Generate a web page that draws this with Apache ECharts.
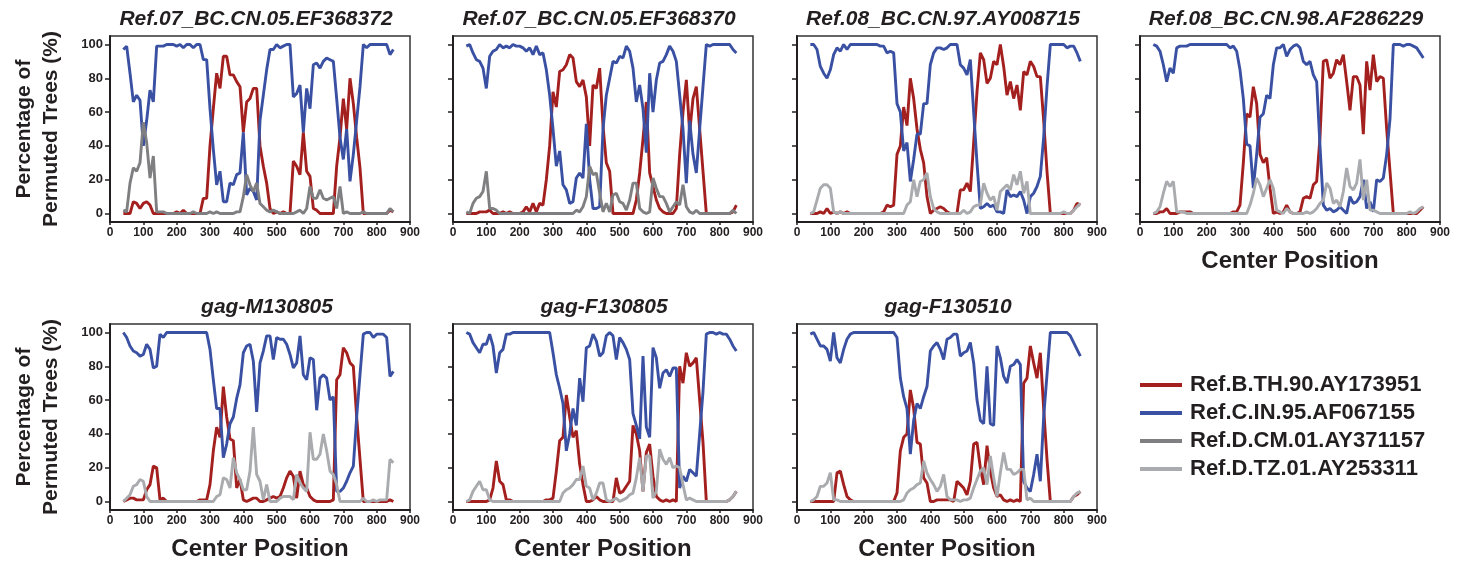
<!DOCTYPE html>
<html>
<head>
<meta charset="utf-8">
<title>Bootscan</title>
<script src="https://cdn.jsdelivr.net/npm/echarts@6.0.0/dist/echarts.min.js"></script>
<style>
  html, body { margin: 0; padding: 0; background: #fff; }
  #chart { width: 1463px; height: 563px; }
</style>
</head>
<body>
<div id="chart"></div>
<script>
// window centre positions (x axis)
var positions = [40,50,60,70,80,90,100,110,120,130,140,
  150,160,170,180,190,200,210,220,230,240,250,
  260,270,280,290,300,310,320,330,340,350,360,
  370,380,390,400,410,420,430,440,450,460,470,
  480,490,500,510,520,530,540,550,560,570,580,
  590,600,610,620,630,640,650,660,670,680,690,
  700,710,720,730,740,750,760,770,780,790,800,
  810,820,830,840,850];

var refNames = ['Ref.B.TH.90.AY173951', 'Ref.C.IN.95.AF067155', 'Ref.D.CM.01.AY371157', 'Ref.D.TZ.01.AY253311'];
var panelTitles = ['Ref.07_BC.CN.05.EF368372', 'Ref.07_BC.CN.05.EF368370', 'Ref.08_BC.CN.97.AY008715',
  'Ref.08_BC.CN.98.AF286229', 'gag-M130805', 'gag-F130805', 'gag-F130510'];
var yTicks = [0, 20, 40, 60, 80, 100];

// panel 1 : Ref.07_BC.CN.05.EF368372
var p1Red = [0,0,0,7,6,3,6,7,5,0,0, 0,0,0,0,0,1,0,2,0,0,0, 0,0,9,9,40,62,83,74,93,93,82,
  82,78,75,48,66,68,74,74,40,28,18, 3,0,1,0,1,0,0,31,28,23,48, 25,22,3,2,0,0,0,0,0,28,45,
  68,50,80,65,45,27,0,0,0,0,0, 0,0,0,2,1];
var p1Blue = [97,99,83,66,70,67,40,55,73,66,99, 99,99,100,100,100,99,100,98,100,100,98,
  100,100,91,91,62,38,17,25,7,7,18, 17,23,24,48,11,15,13,8,55,70,85, 97,97,100,98,99,100,100,69,71,76,48,
  74,62,88,89,86,90,92,91,90,68,45, 32,50,19,35,55,75,100,98,100,100,100, 100,100,100,94,97];
var p1Grey = [2,1,18,27,25,30,54,42,21,34,1, 1,1,0,0,0,0,0,0,0,0,1, 0,0,0,0,1,0,1,0,0,0,0,
  0,1,1,10,23,17,13,18,6,4,2, 1,2,1,0,0,0,0,0,1,2,0, 3,16,9,9,14,9,8,9,10,3,16,
  0,1,0,0,0,0,1,0,0,0,0, 0,0,0,3,1];

// panel 2 : Ref.07_BC.CN.05.EF368370
var p2Red = [0,0,0,0,1,1,1,2,0,0,0, 1,0,1,0,0,0,1,4,1,6,1, 6,5,20,40,72,63,84,85,88,94,92,
  78,75,79,69,40,76,74,86,52,30,25, 0,0,0,0,0,0,0,8,24,44,66, 24,16,8,3,1,0,0,0,3,35,60,
  79,48,68,75,50,25,0,0,0,0,0, 0,0,0,1,5];
var p2Blue = [99,100,95,91,90,86,74,93,96,97,100, 98,99,98,100,99,99,98,96,98,94,99,
  94,95,85,70,50,28,37,17,14,6,7, 21,24,21,53,20,3,3,4,50,70,80, 90,89,93,92,99,96,86,66,76,62,36,
  83,60,79,89,90,94,99,96,90,70,50, 18,55,35,24,50,75,100,99,100,100,100, 100,100,100,97,95];
var p2Grey = [1,0,6,9,10,13,25,3,3,2,0, 0,0,0,0,0,0,0,0,0,0,0, 0,0,0,0,0,0,0,0,0,0,0,
  2,1,4,10,28,23,24,12,1,6,1, 11,12,7,6,2,8,18,18,3,1,0, 1,21,15,10,10,6,1,4,7,5,17,
  4,1,0,2,0,0,0,0,0,0,0, 0,0,0,2,0];

// panel 3 : Ref.08_BC.CN.97.AY008715
var p3Red = [0,0,0,1,0,3,0,1,0,1,0, 1,0,0,0,0,0,0,0,0,0,0, 1,5,4,5,35,40,63,52,80,68,50,
  38,30,10,0,2,3,4,3,1,0,0, 0,14,14,18,13,42,72,95,91,77,80, 90,88,100,87,70,78,68,76,61,84,82,
  90,87,81,81,55,25,0,0,0,0,0, 0,0,2,6,5];
var p3Blue = [100,100,97,87,83,80,85,94,98,96,100, 97,100,100,100,100,100,100,100,100,100,99,
  99,95,96,95,65,60,37,42,19,32,47, 47,65,65,88,95,98,98,97,98,100,100, 100,88,86,82,91,60,30,3,4,6,4,
  5,1,1,0,14,10,11,10,13,8,0, 10,12,16,22,45,75,100,100,100,100,100, 98,99,99,95,90];
var p3Light = [0,1,8,15,17,17,15,1,0,1,0, 0,0,0,0,0,0,0,0,0,0,0, 0,0,0,0,0,0,0,5,7,20,10,
  19,20,24,10,3,1,0,0,0,0,0, 0,0,2,0,1,4,5,5,18,12,8, 10,2,13,15,17,14,23,17,25,12,19,
  0,0,0,0,0,0,0,0,0,0,1, 0,0,2,4,6];

// panel 4 : Ref.08_BC.CN.98.AF286229
var p4Red = [0,0,1,1,3,0,0,0,1,1,1, 1,0,0,0,0,0,0,0,0,0,0, 0,0,1,1,5,30,59,57,75,65,35,
  30,33,15,0,1,0,1,5,1,0,0, 1,9,10,9,17,19,45,90,91,80,83, 91,88,94,78,61,81,81,76,47,90,73,
  94,78,81,80,50,25,0,0,0,0,0, 0,0,0,2,4];
var p4Blue = [100,99,96,88,78,86,83,98,99,99,99, 100,100,100,100,100,100,100,100,100,100,100,
  100,98,99,96,85,68,41,40,15,35,57, 59,70,68,88,98,98,100,93,97,99,100, 98,90,88,90,82,78,40,5,2,3,1,
  2,4,2,0,10,6,7,10,20,3,7, 1,20,19,21,35,56,100,100,100,99,100, 100,99,98,95,92];
var p4Light = [0,1,4,12,19,16,19,1,1,1,0, 0,0,0,0,0,0,0,0,0,0,0, 0,0,0,0,0,0,0,5,12,21,17,
  10,15,20,15,2,1,0,3,1,0,0, 0,0,1,0,1,3,6,8,18,15,6, 8,4,13,27,16,14,18,32,8,20,2,
  2,1,0,0,0,0,0,0,0,0,0, 1,0,1,3,4];

// panel 5 : gag-M130805
var p5Red = [0,1,2,2,1,1,1,7,10,21,20, 1,2,0,0,0,0,0,0,0,0,0, 0,1,1,1,10,30,44,38,68,50,37,
  36,8,13,1,0,1,2,2,0,0,1, 2,3,2,3,8,14,18,15,2,18,10, 8,3,1,0,0,0,0,0,1,72,75,
  91,88,82,80,50,25,0,0,0,0,0, 0,0,0,1,0];
var p5Blue = [100,97,92,89,88,86,87,93,90,79,80, 99,97,100,100,100,100,100,100,100,100,100,
  100,100,100,100,90,72,55,55,26,34,46, 50,61,69,88,92,93,83,53,82,89,98, 98,84,97,96,96,93,87,79,82,98,75,
  72,85,84,54,73,75,73,60,62,6,6, 8,12,17,21,50,75,99,100,100,97,99, 99,99,97,74,77];
var p5Light = [0,2,4,9,10,13,12,3,0,0,0, 0,0,0,0,0,0,0,0,0,0,0, 0,0,0,0,0,0,3,4,14,13,8,
  26,17,13,7,7,18,44,16,12,1,10, 0,0,0,2,3,3,3,1,16,11,8, 6,41,25,25,28,40,30,18,16,10,0,
  0,0,0,0,0,0,2,0,0,1,0, 1,1,1,25,23];

// panel 6 : gag-F130805
var p6Red = [0,0,0,0,0,0,0,1,8,24,12, 10,1,1,0,0,0,0,0,0,0,0, 0,0,1,1,2,18,36,38,63,50,38,
  42,22,10,0,0,1,3,1,0,0,0, 0,14,5,6,9,12,45,40,30,6,29, 34,15,3,1,0,1,0,1,0,80,70,
  88,80,82,85,60,35,0,0,0,0,0, 0,0,1,3,6];
var p6Blue = [100,99,94,91,88,93,93,99,92,76,88, 90,99,99,100,100,100,100,100,100,100,100,
  100,100,100,100,88,75,67,58,30,40,55, 45,73,59,91,92,99,95,86,88,98,100, 98,84,97,94,90,84,52,45,37,86,44,
  38,91,85,67,76,78,74,79,79,8,15, 12,19,17,15,40,65,99,100,100,99,100, 99,99,96,92,89];
var p6Light = [0,1,6,9,12,7,7,1,0,0,0, 0,0,0,0,0,0,0,0,0,0,0, 0,0,0,0,0,0,0,5,7,8,10,
  13,13,21,9,8,1,5,11,11,1,0, 1,2,0,1,2,4,5,14,26,6,27, 27,2,6,31,25,22,26,20,21,20,10,
  1,2,1,0,0,0,0,0,0,0,0, 0,0,1,3,6];

// panel 7 : gag-F130510
var p7Red = [0,0,0,0,0,0,0,0,17,18,10, 3,1,0,0,0,0,0,0,0,0,0, 0,0,0,0,5,30,38,40,66,55,35,
  34,14,11,0,0,1,1,1,1,1,0, 12,10,8,4,12,34,35,20,10,33,18, 8,3,4,1,0,1,0,1,0,70,73,
  92,82,73,88,55,25,0,0,0,0,0, 0,0,3,4,6];
var p7Blue = [99,100,96,92,92,90,83,100,85,82,90, 96,99,100,100,100,100,100,100,100,100,100,
  100,100,100,100,97,73,62,55,28,48,58, 55,62,68,89,92,94,90,84,96,97,99, 99,86,88,89,94,82,60,48,46,80,46,
  45,92,85,74,70,80,81,84,81,12,8, 6,16,28,12,50,75,100,100,100,100,100, 100,98,94,90,86];
var p7Light = [0,1,3,9,9,11,17,1,1,0,0, 0,0,0,0,0,0,0,0,0,0,0, 0,0,0,0,0,0,1,5,7,8,10,
  11,24,17,13,10,6,9,16,3,1,1, 1,0,1,1,2,8,13,18,20,10,27, 14,3,17,29,19,19,16,17,19,19,1,
  2,0,0,0,0,0,0,0,0,0,0, 0,0,3,5,6];

var colors = ['#a3201f', '#3a51a3', '#7f7f81', '#a9abae'];
var font = 'Liberation Sans, Arial, sans-serif';
var ink = '#231f20';

// layout of the 7 small panels
var panels = [
  { left: 110, top: 36, titleShift: -9, red: p1Red, blue: p1Blue, other: p1Grey, otherIdx: 2, yName: true, xName: false },
  { left: 453, top: 36, titleShift: -9, red: p2Red, blue: p2Blue, other: p2Grey, otherIdx: 2, yName: false, xName: false },
  { left: 797, top: 36, titleShift: -9, red: p3Red, blue: p3Blue, other: p3Light, otherIdx: 3, yName: false, xName: false },
  { left: 1140, top: 36, titleShift: -9, red: p4Red, blue: p4Blue, other: p4Light, otherIdx: 3, yName: false, xName: true },
  { left: 110, top: 324, titleShift: 2, red: p5Red, blue: p5Blue, other: p5Light, otherIdx: 3, yName: true, xName: true },
  { left: 453, top: 324, titleShift: -4, red: p6Red, blue: p6Blue, other: p6Light, otherIdx: 3, yName: false, xName: true },
  { left: 797, top: 324, titleShift: -4, red: p7Red, blue: p7Blue, other: p7Light, otherIdx: 3, yName: false, xName: true }
];

function pairs(arr) {
  return positions.map(function (x, i) { return [x, arr[i]]; });
}

var grids = [], xAxes = [], yAxes = [], titles = [], series = [];

panels.forEach(function (p, k) {
  grids.push({ left: p.left, top: p.top, width: 300, height: 186, show: true,
    borderColor: '#333', borderWidth: 1.5, backgroundColor: 'transparent' });

  titles.push({ text: panelTitles[k], left: p.left + 150 + p.titleShift, top: p.top - 32, textAlign: 'center',
    textStyle: { fontFamily: font, fontSize: 21, fontWeight: 'bold', fontStyle: 'italic', color: ink } });

  xAxes.push({
    type: 'value', gridIndex: k, min: 0, max: 900, interval: 100,
    axisLine: { onZero: false, lineStyle: { color: ink, width: 2 } },
    axisTick: { show: true, length: 3, lineStyle: { color: ink, width: 1.5 } },
    axisLabel: { margin: 5, fontFamily: font, fontSize: 12, fontWeight: 'bold', color: ink },
    splitLine: { show: false },
    name: p.xName ? 'Center Position' : '',
    nameLocation: 'middle', nameGap: 27,
    nameTextStyle: { fontFamily: font, fontSize: 24, fontWeight: 'bold', color: ink }
  });

  yAxes.push({
    type: 'value', gridIndex: k, min: -5, max: 105,
    axisLine: { onZero: false, lineStyle: { color: ink, width: 2 } },
    axisTick: { show: true, length: 5, customValues: yTicks, lineStyle: { color: ink, width: 1.5 } },
    axisLabel: { show: p.yName, customValues: yTicks, margin: 7, fontFamily: font, fontSize: 13,
      fontWeight: 'bold', color: ink },
    splitLine: { show: false },
    name: p.yName ? 'Percentage of\nPermuted Trees (%)' : '',
    nameLocation: 'middle', nameRotate: 90, nameGap: 45,
    nameTextStyle: { fontFamily: font, fontSize: 21, fontWeight: 'bold', color: ink, lineHeight: 27 }
  });

  var sets = [[0, p.red], [1, p.blue], [p.otherIdx, p.other]];
  sets.forEach(function (s) {
    series.push({
      type: 'line', name: refNames[s[0]], xAxisIndex: k, yAxisIndex: k,
      data: pairs(s[1]), symbol: 'none', showSymbol: false,
      color: colors[s[0]], lineStyle: { width: 2.9, color: colors[s[0]] },
      emphasis: { disabled: true }
    });
  });
});

var chart = echarts.init(document.getElementById('chart'));
chart.setOption({
  animation: false,
  backgroundColor: '#fff',
  title: titles,
  grid: grids,
  xAxis: xAxes,
  yAxis: yAxes,
  legend: {
    data: refNames, orient: 'vertical', left: 1135, top: 368,
    icon: 'rect', itemWidth: 42, itemHeight: 4, itemGap: 4,
    selectedMode: false,
    textStyle: { fontFamily: font, fontSize: 22, fontWeight: 'bold', color: ink, lineHeight: 24,
      padding: [0, 0, 0, 3] }
  },
  series: series
});
</script>
</body>
</html>
